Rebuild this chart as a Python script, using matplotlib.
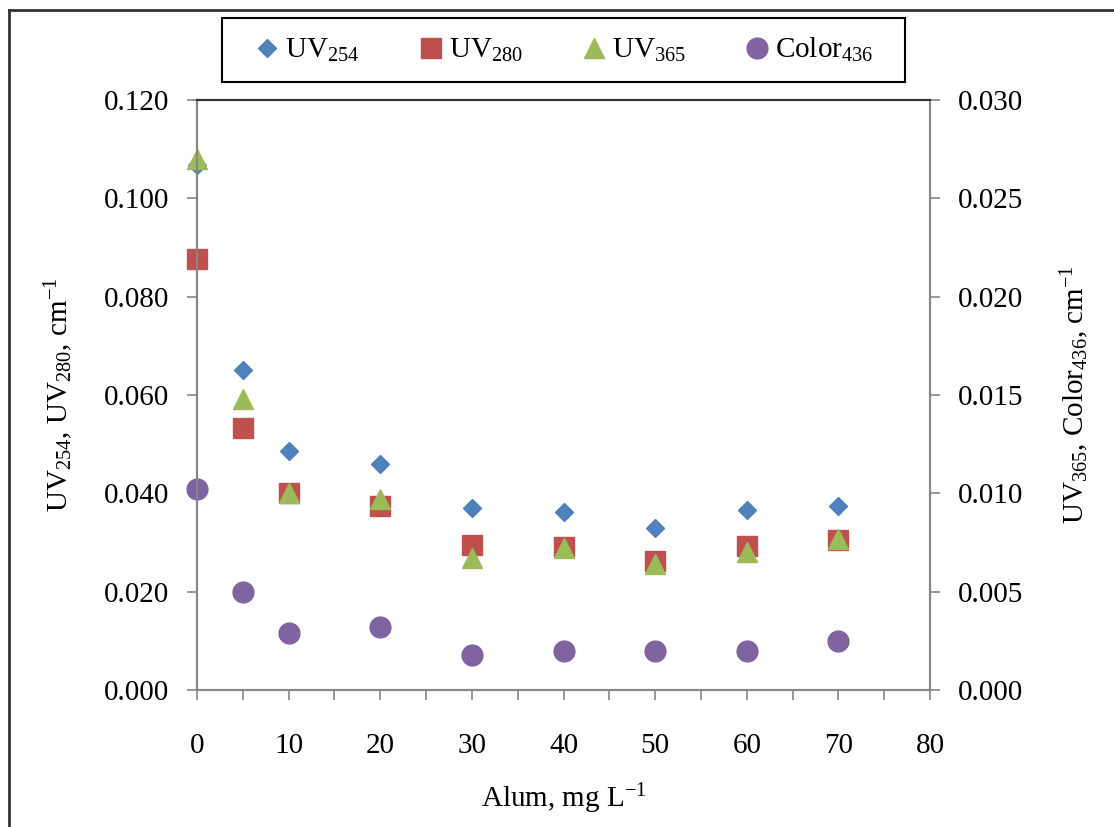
import matplotlib
matplotlib.use("Agg")
import matplotlib.pyplot as plt
from matplotlib.lines import Line2D
from matplotlib.patches import Rectangle
from matplotlib.ticker import MultipleLocator, FormatStrFormatter

plt.rcParams['font.family'] = ['Liberation Serif', 'DejaVu Serif']
plt.rcParams['mathtext.fontset'] = 'custom'
plt.rcParams['mathtext.rm'] = 'Liberation Serif'
plt.rcParams['mathtext.it'] = 'Liberation Serif:italic'

# Dados
alum = [0, 5, 10, 20, 30, 40, 50, 60, 70]
uv254 = [0.1068, 0.0651, 0.0486, 0.0460, 0.0370, 0.0362, 0.0329, 0.0366, 0.0374]
uv280 = [0.0877, 0.0533, 0.0401, 0.0374, 0.0295, 0.0291, 0.0262, 0.0293, 0.0305]
uv365 = [0.0270, 0.0148, 0.0100, 0.0097, 0.0067, 0.0072, 0.0064, 0.0070, 0.0077]
color436 = [0.0102, 0.0050, 0.0029, 0.0032, 0.0018, 0.0020, 0.0020, 0.0020, 0.0025]

azul = '#4F81BD'
vermelho = '#C0504D'
verde = '#9BBB59'
roxo = '#8064A2'
cinza = '#868686'
fs = 21

fig = plt.figure(figsize=(11.14, 8.27), dpi=100)
ax = fig.add_axes([197/1114, 1 - 690/827, (930-197)/1114, (690-100)/827])
ax2 = ax.twinx()

ax.plot(alum, uv254, 'D', color=azul, markersize=9.5, linestyle='none', clip_on=False)
ax.plot(alum, uv280, 's', color=vermelho, markersize=14, linestyle='none', clip_on=False)
ax2.plot(alum, uv365, '^', color=verde, markersize=14, linestyle='none', clip_on=False)
ax2.plot(alum, color436, 'o', color=roxo, markersize=15, linestyle='none', clip_on=False)

ax.set_xlim(0, 80)
ax.set_ylim(0, 0.120)
ax2.set_ylim(0, 0.030)
ax.xaxis.set_major_locator(MultipleLocator(10))
ax.xaxis.set_minor_locator(MultipleLocator(5))
ax.yaxis.set_major_locator(MultipleLocator(0.02))
ax2.yaxis.set_major_locator(MultipleLocator(0.005))
ax.yaxis.set_major_formatter(FormatStrFormatter('%.3f'))
ax2.yaxis.set_major_formatter(FormatStrFormatter('%.3f'))

for a in (ax, ax2):
    for lado in ('left', 'right', 'bottom'):
        a.spines[lado].set_color(cinza)
        a.spines[lado].set_linewidth(1.5)
    a.spines['top'].set_color('#333333')
    a.spines['top'].set_linewidth(1.5)

ax.tick_params(axis='x', which='both', direction='out', length=7, width=1.2, color=cinza, labelsize=fs, pad=24)
ax.tick_params(axis='y', direction='out', length=7, width=1.2, color=cinza, labelsize=fs, pad=13)
ax2.tick_params(axis='y', direction='out', length=7, width=1.2, color=cinza, labelsize=fs, pad=13)

ax.set_xlabel('Alum, mg L$^{-1}$', fontsize=fs, labelpad=16)
ax.set_ylabel('UV$_{254}$, UV$_{280}$, cm$^{-1}$', fontsize=fs, labelpad=21)
ax2.set_ylabel('UV$_{365}$, Color$_{436}$, cm$^{-1}$', fontsize=fs, labelpad=25)

# Legenda (moldura desenhada a parte)
itens = [
    Line2D([], [], marker='D', color=azul, markersize=9.5, linestyle='none'),
    Line2D([], [], marker='s', color=vermelho, markersize=14, linestyle='none'),
    Line2D([], [], marker='^', color=verde, markersize=14, linestyle='none'),
    Line2D([], [], marker='o', color=roxo, markersize=15, linestyle='none'),
]
nomes = ['UV$_{254}$', 'UV$_{280}$', 'UV$_{365}$', 'Color$_{436}$']
fig.legend(itens, nomes, loc='center', bbox_to_anchor=(563/1114, 1 - 50/827), ncol=4,
           fontsize=fs, frameon=False, handletextpad=0.1,
           columnspacing=1.95, handlelength=1.0)
fig.add_artist(Rectangle((222/1114, 1 - 82/827), 683/1114, 64/827, transform=fig.transFigure,
                         fill=False, edgecolor='black', linewidth=1.5))

# Borda externa do grafico
fig.add_artist(Line2D([9/1114, 9/1114], [0, 1 - 10/827], transform=fig.transFigure, color='#333333', linewidth=2))
fig.add_artist(Line2D([9/1114, 1], [1 - 10/827, 1 - 10/827], transform=fig.transFigure, color='#333333', linewidth=2))

fig.savefig('out.png', dpi=100, facecolor='white')
